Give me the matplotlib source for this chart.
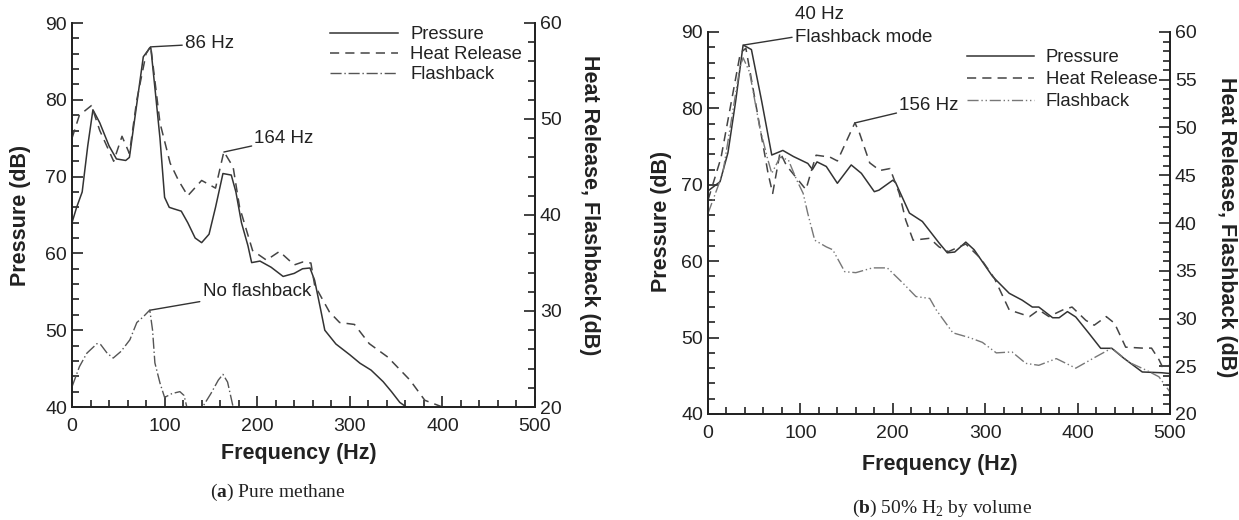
import matplotlib
matplotlib.use("Agg")
import matplotlib.pyplot as plt
import matplotlib.ticker as ticker

plt.rcParams['font.family'] = ['Liberation Sans', 'DejaVu Sans']
plt.rcParams['mathtext.fontset'] = 'custom'
plt.rcParams['mathtext.rm'] = 'Liberation Serif'
plt.rcParams['mathtext.bf'] = 'Liberation Serif:bold'

# ---- (a) pure methane ----
a_p_f = [0, 5, 11, 17, 22.6, 30, 40, 48, 58, 62, 70, 77, 85, 90, 95, 100, 105, 110, 118, 125,
         133, 140, 148, 155, 163, 172, 177, 183, 190, 194, 203, 215, 228, 240, 249, 257, 262,
         268, 273, 285, 300, 311, 323, 336, 345, 354, 361, 375]
a_p = [64, 66, 68, 74, 78.7, 77, 74, 72.3, 72.1, 72.5, 79.5, 85.6, 86.9, 81, 75, 67.3, 66, 65.8,
       65.5, 64, 62, 61.4, 62.5, 66, 70.4, 70.2, 68, 64, 61, 58.8, 59, 58.2, 57, 57.4, 58, 58.1,
       56.5, 53, 50, 48.2, 46.8, 45.7, 44.8, 43.3, 42, 40.6, 40, 38]

a_hr_f = [0, 8, 21, 30, 45, 54, 62, 70, 80, 85, 95, 106, 115, 125, 140, 155, 164, 174, 181, 195,
          210, 224, 240, 249, 258, 262, 278, 289, 305, 321, 341, 365, 381, 400, 410]
a_hr = [48.0, 50.4, 51.4, 48.8, 45.6, 48.2, 46.4, 52.0, 56.8, 57.6, 49.6, 45.4, 43.6, 42.0, 43.6,
        42.8, 46.6, 45.0, 40.8, 36.3, 35.3, 36.2, 34.8, 35.1, 35.0, 32.7, 29.9, 28.8, 28.6, 26.6,
        25.2, 22.8, 20.7, 20.0, 19.0]

a_fb_f = [0, 8, 16, 27, 31, 38, 44.5, 53, 62.5, 70, 77, 84, 87, 89.5, 95, 100, 108, 116.5, 121,
          124, 131, 141, 150, 158, 163, 168, 174, 178]
a_fb = [22.1, 24.2, 25.6, 26.6, 26.5, 25.6, 25.1, 25.8, 27.0, 28.8, 29.4, 30.1, 28.0, 24.6, 22.5,
        21.0, 21.4, 21.6, 21.2, 20.0, 19.0, 20.0, 21.4, 22.8, 23.4, 22.6, 20.0, 18.5]

# ---- (b) 50% H2 ----
b_p_f = [0, 13, 21.6, 30, 38, 47, 58, 69, 81, 92.5, 108, 113, 118, 128, 140, 155, 166, 180, 185,
         200, 203, 218, 232, 250, 259, 267, 279, 288, 308, 326, 340, 351, 358, 373, 380, 389, 398,
         412, 425, 437, 450, 470, 491, 500]
b_p = [69.2, 70.4, 74.2, 81, 88.3, 87.7, 81, 73.9, 74.5, 73.7, 72.8, 72.0, 73.0, 72.4, 70.2, 72.6,
       71.5, 69.1, 69.3, 70.6, 70.3, 66.3, 65.2, 62.4, 61.1, 61.2, 62.5, 61.5, 58.0, 55.8, 54.9,
       54.0, 54.0, 52.6, 52.6, 53.4, 52.7, 50.6, 48.6, 48.6, 47.3, 45.5, 45.4, 45.3]

b_hr_f = [0, 14, 35, 41, 65, 70, 78, 85, 106, 112, 117, 132, 140, 159, 164, 175, 186, 197, 207,
          214, 222, 240, 250, 260, 279, 295, 310, 326, 348, 358, 369, 384, 394, 409, 418, 431,
          440, 452, 470, 480, 488, 492, 500]
b_hr = [42.4, 46.8, 57.8, 58.3, 45.2, 43.1, 47.4, 46.0, 43.5, 45.5, 47.1, 46.9, 46.5, 50.5, 49.4,
        46.3, 45.5, 45.7, 43.1, 40.3, 38.2, 38.4, 37.5, 37.0, 37.8, 36.3, 34.2, 30.9, 30.2, 30.9,
        30.2, 30.9, 31.2, 29.8, 29.3, 30.2, 29.5, 27.0, 26.9, 26.9, 25.7, 24.9, 25.1]

b_fb_f = [0, 16, 34.5, 38, 45, 56, 64, 69, 78, 87, 96, 103, 108, 115.5, 128, 135, 148, 160, 178,
          194, 211, 225, 240, 247, 259, 265, 283, 297, 312, 329, 344, 358, 377, 398, 420, 437,
          456, 474, 488, 500]
b_fb = [41.0, 45.2, 56.3, 57.3, 55.8, 50.0, 46.9, 45.2, 46.9, 46.6, 44.5, 43.1, 41.0, 38.2, 37.5,
        37.2, 34.9, 34.8, 35.3, 35.3, 33.7, 32.3, 32.1, 30.9, 29.3, 28.5, 28.0, 27.5, 26.4, 26.5,
        25.3, 25.1, 25.8, 24.8, 26.0, 26.9, 25.4, 24.6, 23.9, 22.3]

labels = ["Pressure", "Heat Release", "Flashback"]
ink = '#222222'
lab_fs = 15.5
note_fs = 13.5

fig = plt.figure(figsize=(12.39, 5.2), dpi=100)


def style_axes(ax, ax2, r_major, r_minor):
    ax.set_xlim(0, 500)
    ax.set_ylim(40, 90)
    ax2.set_ylim(20, 60)
    for a in (ax, ax2):
        a.spines['top'].set_visible(False)
        for s in a.spines.values():
            s.set_linewidth(1.3)
            s.set_color(ink)
    ax.xaxis.set_major_locator(ticker.MultipleLocator(100))
    ax.xaxis.set_minor_locator(ticker.MultipleLocator(20))
    ax.yaxis.set_major_locator(ticker.MultipleLocator(10))
    ax.yaxis.set_minor_locator(ticker.MultipleLocator(2))
    ax2.yaxis.set_major_locator(ticker.MultipleLocator(r_major))
    ax2.yaxis.set_minor_locator(ticker.MultipleLocator(r_minor))
    for a in (ax, ax2):
        a.tick_params(which='both', direction='in', colors=ink, labelsize=14, width=1.2)
        a.tick_params(which='major', length=8)
        a.tick_params(which='minor', length=5)
    ax.tick_params(axis='x', pad=8)
    ax.set_xlabel("Frequency (Hz)", fontsize=lab_fs, fontweight='bold', color=ink)
    ax.set_ylabel("Pressure (dB)", fontsize=lab_fs, fontweight='bold', color=ink)
    ax2.set_ylabel("Heat Release, Flashback (dB)", fontsize=lab_fs, fontweight='bold',
                   color=ink, rotation=270)


arrow = dict(arrowstyle='-', color='#333333', lw=1.0, shrinkA=0, shrinkB=0)

# panel (a)
axa = fig.add_axes([72 / 1239, 1 - 407 / 520, 463 / 1239, 384 / 520])
axa2 = axa.twinx()
l1, = axa.plot(a_p_f, a_p, color='#333333', lw=1.1)
l2, = axa2.plot(a_hr_f, a_hr, color='#444444', lw=1.1, ls=(0, (6, 4)))
l3, = axa2.plot(a_fb_f, a_fb, color='#555555', lw=1.0, ls=(0, (8, 2, 1, 2)))
style_axes(axa, axa2, 10, 2)
axa.xaxis.set_label_coords(0.49, -0.094)
axa.yaxis.set_label_coords(-0.089, 0.5)
axa2.yaxis.set_label_coords(1.140, 0.526)
axa.legend([l1, l2, l3], labels, loc='upper left', bbox_to_anchor=(330 / 1239, 1 - 26 / 520),
           bbox_transform=fig.transFigure, frameon=False, fontsize=13.3, handlelength=3.7,
           handletextpad=0.65, labelspacing=0.17, borderpad=0, borderaxespad=0, labelcolor=ink)

axa.annotate("86 Hz", xy=(86, 86.9), xytext=(122, 87.3), fontsize=note_fs, color=ink,
             ha='left', va='center', arrowprops=arrow)
axa.annotate("164 Hz", xy=(164, 73.2), xytext=(197, 74.9), fontsize=note_fs, color=ink,
             ha='left', va='center', arrowprops=arrow)
axa.annotate("No flashback", xy=(84, 52.6), xytext=(141, 55), fontsize=note_fs, color=ink,
             ha='left', va='center', arrowprops=arrow)

# panel (b)
axb = fig.add_axes([708 / 1239, 1 - 414 / 520, 462 / 1239, 382 / 520])
axb2 = axb.twinx()
m1, = axb.plot(b_p_f, b_p, color='#333333', lw=1.1)
m2, = axb2.plot(b_hr_f, b_hr, color='#444444', lw=1.1, ls=(0, (6, 4)))
m3, = axb2.plot(b_fb_f, b_fb, color='#777777', lw=1.0, ls=(0, (8, 2, 1, 2, 1, 2)))
style_axes(axb, axb2, 5, 1)
axb.xaxis.set_label_coords(0.502, -0.105)
axb.yaxis.set_label_coords(-0.078, 0.503)
axb2.yaxis.set_label_coords(1.145, 0.49)
axb.legend([m1, m2, m3], labels, loc='upper left', bbox_to_anchor=(967 / 1239, 1 - 49 / 520),
           bbox_transform=fig.transFigure, frameon=False, fontsize=13.3, handlelength=3.6,
           handletextpad=0.65, labelspacing=0.28, borderpad=0, borderaxespad=0, labelcolor=ink)

axb.annotate("40 Hz\nFlashback mode", xy=(39, 88.3), xytext=(94, 90.8), fontsize=note_fs,
             color=ink, ha='left', va='center', linespacing=1.45, arrowprops=arrow,
             annotation_clip=False)
axb.annotate("156 Hz", xy=(159, 78.1), xytext=(207, 80.4), fontsize=note_fs, color=ink,
             ha='left', va='center', arrowprops=arrow)

# captions
fig.text(278 / 1239, 1 - 492 / 520, r"($\mathbf{a}$) Pure methane", fontsize=14,
         family='Liberation Serif', ha='center', va='center', color=ink)
fig.text(942 / 1239, 1 - 508 / 520, r"($\mathbf{b}$) 50% H$_2$ by volume", fontsize=14,
         family='Liberation Serif', ha='center', va='center', color=ink)

fig.savefig("out.png", dpi=100)
